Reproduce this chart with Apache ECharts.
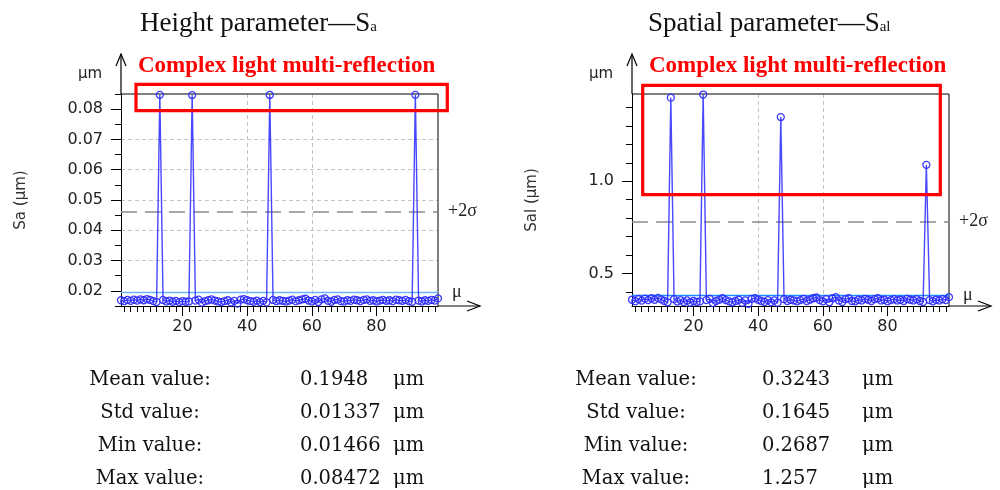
<!DOCTYPE html>
<html>
<head>
<meta charset="utf-8">
<script src="https://cdn.jsdelivr.net/npm/echarts@6/dist/echarts.min.js"></script>
<style>
  html, body { margin: 0; padding: 0; background: #fff; }
  #chart { width: 1000px; height: 490px; }
</style>
</head>
<body>
<div id="chart"></div>
<script>
// Sample numbers run from 1 to 99 on both panels
const sampleStart = 1;
const sampleEnd = 99;

// Sa per sample (µm)
const saValues = [
  0.0169, 0.0166, 0.0170, 0.0167, 0.0171, 0.0168, 0.0172, 0.0169, 0.0173, 0.0170,
  0.0166, 0.0163, 0.08472, 0.0170, 0.0165, 0.0168, 0.0164, 0.0167, 0.0163, 0.0166,
  0.0164, 0.0165, 0.08465, 0.0168, 0.0171, 0.0161, 0.0166, 0.0169, 0.0172, 0.0168,
  0.0165, 0.0163, 0.0166, 0.0169, 0.0162, 0.0167, 0.0158, 0.0171, 0.0173, 0.0169,
  0.0166, 0.0164, 0.0168, 0.0163, 0.0167, 0.0162, 0.08468, 0.0170, 0.0166, 0.0169,
  0.0167, 0.0165, 0.0168, 0.0171, 0.0166, 0.0169, 0.0172, 0.0174, 0.0168, 0.0165,
  0.0170, 0.0163, 0.0172, 0.0175, 0.0167, 0.0164, 0.0170, 0.0172, 0.0166, 0.0165,
  0.0169, 0.0167, 0.0171, 0.0169, 0.0166, 0.0170, 0.0172, 0.0167, 0.0169, 0.0165,
  0.0168, 0.0170, 0.0167, 0.0169, 0.0166, 0.0171, 0.0169, 0.0167, 0.0170, 0.0166,
  0.0164, 0.08472, 0.0168, 0.0165, 0.0169, 0.0167, 0.0170, 0.0168, 0.0175
];

// Sal per sample (µm)
const salValues = [
  0.358, 0.350, 0.362, 0.353, 0.364, 0.356, 0.366, 0.358, 0.368, 0.360,
  0.351, 0.344, 1.453, 0.361, 0.348, 0.356, 0.346, 0.354, 0.343, 0.351,
  0.346, 0.349, 1.470, 0.356, 0.363, 0.340, 0.351, 0.358, 0.366, 0.356,
  0.349, 0.344, 0.351, 0.358, 0.342, 0.354, 0.336, 0.363, 0.367, 0.358,
  0.351, 0.346, 0.356, 0.344, 0.354, 0.342, 1.348, 0.361, 0.351, 0.358,
  0.354, 0.349, 0.356, 0.363, 0.351, 0.358, 0.366, 0.370, 0.356, 0.349,
  0.361, 0.344, 0.366, 0.372, 0.354, 0.346, 0.361, 0.366, 0.351, 0.349,
  0.358, 0.354, 0.363, 0.358, 0.351, 0.361, 0.366, 0.354, 0.358, 0.349,
  0.356, 0.361, 0.354, 0.358, 0.351, 0.363, 0.358, 0.354, 0.361, 0.351,
  0.346, 1.089, 0.356, 0.349, 0.358, 0.354, 0.361, 0.356, 0.372
];

// Reference lines: mean (µ) and mean + 2σ
const saMeanLine = 0.0195;
const saTwoSigmaLine = 0.0462;
const salMeanLine = 0.382;
const salTwoSigmaLine = 0.783;

// Axis ranges and ticks
const saRange = [0.015, 0.085];
const salRange = [0.324, 1.473];
const xMajorTicks = [20, 40, 60, 80];
const xMinorTicks = [2, 4, 6, 8, 10, 12, 14, 16, 18, 20, 22, 24, 26, 28, 30, 32, 34, 36, 38, 40,
  42, 44, 46, 48, 50, 52, 54, 56, 58, 60, 62, 64, 66, 68, 70, 72, 74, 76, 78, 80,
  82, 84, 86, 88, 90, 92, 94, 96, 98];
const saMajorTicks = [0.02, 0.03, 0.04, 0.05, 0.06, 0.07, 0.08];
const saMinorTicks = [0.015, 0.02, 0.025, 0.03, 0.035, 0.04, 0.045, 0.05, 0.055, 0.06,
  0.065, 0.07, 0.075, 0.08, 0.085];
const salMajorTicks = [0.5, 1.0];
const salMinorTicks = [0.4, 0.5, 0.6, 0.7, 0.8, 0.9, 1.0, 1.1, 1.2, 1.3, 1.4];

// Summary tables
const statNames = ['Mean value:', 'Std value:', 'Min value:', 'Max value:'];
const saStats = ['0.1948', '0.01337', '0.01466', '0.08472'];
const salStats = ['0.3243', '0.1645', '0.2687', '1.257'];
const statUnit = 'μm';

// Panel text
const panelTitles = [['Height parameter—S', 'a'], ['Spatial parameter—S', 'al']];
const yNames = ['Sa (μm)', 'Sal (μm)'];
const noteText = 'Complex light multi-reflection';

// ---------- layout ----------
const grids = [
  { left: 121, top: 94, width: 317, height: 212 },
  { left: 632, top: 94, width: 317, height: 212 }
];
const SANS = '"DejaVu Sans", sans-serif';
const SERIF = '"Liberation Serif", serif';
const STAT_SERIF = '"DejaVu Serif", serif';
const gridLine = { color: '#c4c4c4', type: [4, 3], width: 1 };
const markBlue = 'rgba(45,45,255,0.92)';

function pairs(values) {
  return values.map((v, i) => [sampleStart + i, v]);
}

function xAxes(gi) {
  return [
    {
      type: 'value', gridIndex: gi, position: 'bottom', min: sampleStart, max: sampleEnd,
      axisLine: { show: true, lineStyle: { color: '#000', width: 1 } },
      axisTick: { show: true, inside: false, length: 10, customValues: xMajorTicks, lineStyle: { color: '#000' } },
      axisLabel: { show: true, customValues: xMajorTicks, margin: 13, color: '#222', fontFamily: SANS, fontSize: 16 },
      splitLine: { show: true, showMinLine: false, showMaxLine: false, lineStyle: gridLine },
      splitNumber: 5
    },
    {
      type: 'value', gridIndex: gi, position: 'bottom', min: sampleStart, max: sampleEnd,
      axisLine: { show: false },
      axisTick: { show: true, inside: false, length: 6, customValues: xMinorTicks, lineStyle: { color: '#000' } },
      axisLabel: { show: false },
      splitLine: { show: false }
    }
  ];
}

function yAxes(gi, range, major, minor, digits, splitNumber) {
  return [
    {
      type: 'value', gridIndex: gi, position: 'left', min: range[0], max: range[1],
      splitNumber: splitNumber,
      axisLine: { show: true, lineStyle: { color: '#000', width: 1 } },
      axisTick: { show: true, inside: false, length: 10, customValues: major, lineStyle: { color: '#000' } },
      axisLabel: {
        show: true, customValues: major, margin: 18, color: '#222', fontFamily: SANS, fontSize: 16,
        formatter: v => Number(v).toFixed(digits)
      },
      splitLine: { show: true, showMinLine: false, showMaxLine: false, lineStyle: gridLine }
    },
    {
      type: 'value', gridIndex: gi, position: 'left', min: range[0], max: range[1],
      axisLine: { show: false },
      axisTick: { show: true, inside: false, length: 6, customValues: minor, lineStyle: { color: '#000' } },
      axisLabel: { show: false },
      splitLine: { show: false }
    }
  ];
}

function seriesFor(gi, values, meanVal, sigmaVal, meanColor) {
  return {
    type: 'line',
    xAxisIndex: gi * 2,
    yAxisIndex: gi * 2,
    data: pairs(values),
    symbol: 'circle',
    symbolSize: 7,
    showAllSymbol: true,
    clip: false,
    lineStyle: { color: 'rgba(40,40,255,0.85)', width: 1.4 },
    itemStyle: { color: 'rgba(255,255,255,0)', borderColor: markBlue, borderWidth: 1.3 },
    emphasis: { disabled: true },
    animation: false,
    z: 5,
    markLine: {
      silent: true,
      symbol: 'none',
      precision: 5,
      animation: false,
      data: [
        {
          yAxis: sigmaVal,
          lineStyle: { color: '#8a8a8a', type: [16, 8], width: 1.5 },
          label: {
            show: true, position: 'end', distance: 10, formatter: '+2σ',
            color: '#222', fontFamily: SERIF, fontSize: 18, padding: [8, 0, 0, 0]
          }
        },
        {
          yAxis: meanVal,
          lineStyle: { color: meanColor, type: 'solid', width: 1.3 },
          label: {
            show: true, position: 'end', distance: 14, formatter: 'μ',
            color: '#222', fontFamily: SERIF, fontSize: 18, padding: [18, 0, 0, 0]
          }
        }
      ]
    }
  };
}

// Axis arrows and plot frame
function frameGraphics(g) {
  const x0 = g.left, yb = g.top + g.height, xr = g.left + g.width;
  const style = { stroke: '#000', lineWidth: 1.2, fill: null };
  return [
    { type: 'polyline', z: 3, shape: { points: [[x0, g.top], [xr, g.top], [xr, yb]] }, style: { stroke: '#000', lineWidth: 1, fill: null }, silent: true },
    { type: 'line', shape: { x1: x0, y1: g.top, x2: x0, y2: 54 }, style: style, silent: true },
    { type: 'polyline', shape: { points: [[x0 - 5, 66], [x0, 54], [x0 + 5, 66]] }, style: style, silent: true },
    { type: 'line', shape: { x1: xr, y1: yb, x2: xr + 42, y2: yb }, style: style, silent: true },
    { type: 'polyline', shape: { points: [[xr + 29, yb - 5], [xr + 42, yb], [xr + 29, yb + 5]] }, style: style, silent: true }
  ];
}

const graphics = [];
grids.forEach((g, gi) => {
  graphics.push(...frameGraphics(g));
  // unit over the value axis
  graphics.push({
    type: 'text', x: g.left - 31, y: 74, silent: true,
    style: { text: 'μm', fontFamily: SANS, fontSize: 15, fill: '#222', align: 'center', verticalAlign: 'middle' }
  });
  // rotated axis name
  graphics.push({
    type: 'text', x: g.left - 100, y: 200, rotation: Math.PI / 2, silent: true,
    style: { text: yNames[gi], fontFamily: SANS, fontSize: 15, fill: '#333', align: 'center', verticalAlign: 'middle' }
  });
  // panel title with subscript
  graphics.push({
    type: 'text', x: g.left + 19 - (gi ? 3 : 0), y: 24, silent: true,
    style: {
      text: panelTitles[gi][0] + '{s|' + panelTitles[gi][1] + '}',
      fontFamily: SERIF, fontSize: 27, fill: '#111', align: 'left', verticalAlign: 'middle',
      rich: { s: { fontFamily: SERIF, fontSize: 15, fill: '#111', verticalAlign: 'bottom', padding: [0, 0, 3, 0] } }
    }
  });
  // red note
  graphics.push({
    type: 'text', x: g.left + 17, y: 66, silent: true,
    style: { text: noteText, fontFamily: SERIF, fontSize: 23, fontWeight: 'bold', fill: '#ff0000', align: 'left', verticalAlign: 'middle' }
  });
});

// annotation boxes
graphics.push(
  { type: 'rect', z: 10, shape: { x: 136, y: 84.3, width: 311.3, height: 26.4 }, style: { stroke: '#ff0000', lineWidth: 3.2, fill: null }, silent: true },
  { type: 'rect', z: 10, shape: { x: 642.7, y: 85.3, width: 297.6, height: 109.3 }, style: { stroke: '#ff0000', lineWidth: 3.2, fill: null }, silent: true }
);

// summary tables
const rowY = [380, 413, 446, 479];
const tableCols = [
  { label: 150, value: 300, unit: 393, values: saStats },
  { label: 636, value: 762, unit: 862, values: salStats }
];
tableCols.forEach(tc => {
  statNames.forEach((name, r) => {
    const base = { fontFamily: STAT_SERIF, fontSize: 19.5, fill: '#111', verticalAlign: 'middle' };
    graphics.push(
      { type: 'text', x: tc.label, y: rowY[r], silent: true, style: Object.assign({ text: name, align: 'center' }, base) },
      { type: 'text', x: tc.value, y: rowY[r], silent: true, style: Object.assign({ text: tc.values[r], align: 'left' }, base) },
      { type: 'text', x: tc.unit, y: rowY[r], silent: true, style: Object.assign({ text: statUnit, align: 'left' }, base) }
    );
  });
});

const option = {
  animation: false,
  backgroundColor: '#fff',
  grid: grids.map(g => Object.assign({ show: false, containLabel: false }, g)),
  xAxis: [...xAxes(0), ...xAxes(1)],
  yAxis: [
    ...yAxes(0, saRange, saMajorTicks, saMinorTicks, 2, 7),
    ...yAxes(1, salRange, salMajorTicks, salMinorTicks, 1, 2)
  ],
  series: [
    seriesFor(0, saValues, saMeanLine, saTwoSigmaLine, '#6cb2ff'),
    seriesFor(1, salValues, salMeanLine, salTwoSigmaLine, '#1e8fff')
  ],
  graphic: graphics
};

const chart = echarts.init(document.getElementById('chart'), null, { renderer: 'canvas' });
chart.setOption(option);
</script>
</body>
</html>
